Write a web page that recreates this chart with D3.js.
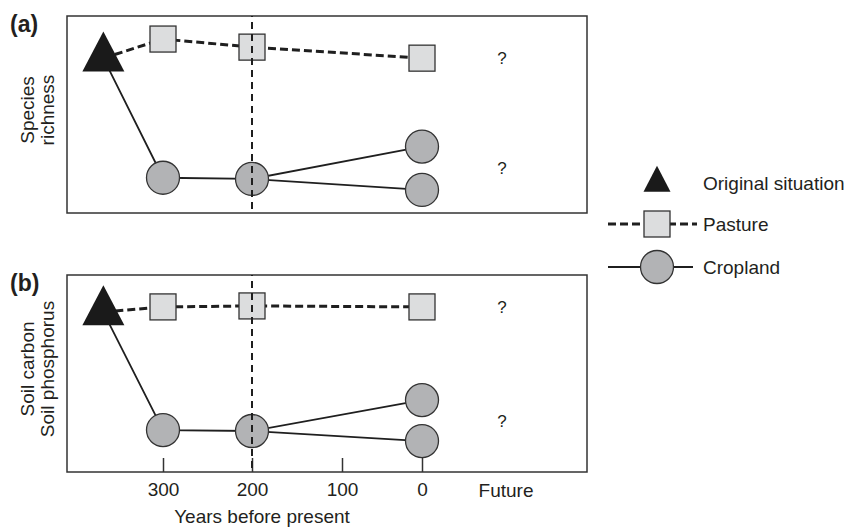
<!DOCTYPE html>
<html>
<head>
<meta charset="utf-8">
<script src="https://cdn.jsdelivr.net/npm/d3@7"></script>
<style>
body { margin: 0; background: #fff; }
svg { display: block; font-family: "Liberation Sans", Arial, sans-serif; }
</style>
</head>
<body>
<svg id="containerSVG" width="848" height="528"></svg>
<script>

//DATI

var tickYears = [300, 200, 100, 0];
var futureLabel = "Future";
var originalYear = 367;
var futureYear = -100;
var dividerYear = 200;

var panelLabels = ["(a)", "(b)"];
var yLabels = [["Species", "richness"], ["Soil carbon", "Soil phosphorus"]];

// valori schematici, 0-100 dell'altezza del pannello
var originalValues = [78.6, 81.2];

var pastureYears = [300, 200, 0];
var pastureValues = [[88.3, 84.2, 78.6], [83.8, 84.3, 83.8]];

var croplandYears = [300, 200];
var croplandValues = [[17.9, 17.3], [21.3, 20.8]];
var croplandEndYear = 0;
var croplandEnds = [[33.7, 11.7], [36.5, 15.7]];

var legendLabels = ["Original situation", "Pasture", "Cropland"];

//VARIABILI

var svg = d3.select("#containerSVG");

var boxLeft = 67;
var boxRight = 587;
var panelTops = [16, 275];
var panelHeight = 197;

var coloreTesto = "#231f20";
var coloreLinea = "#1f1f1f";
var fillQuadrato = "#dcddde";
var fillCerchio = "#b2b3b5";

var fontTesto = 19;
var lato = 26;
var raggio = 16.5;

var x = d3.scaleLinear()
    .domain(tickYears)
    .range([163, 252, 342, 422]);

var linea = d3.line()
    .x(d => x(d[0]))
    .y(d => d[1]);

//FUNZIONI

function triangolo(w, h){

    var p = d3.path();
    p.moveTo(0, -h * 2 / 3);
    p.lineTo(w / 2, h / 3);
    p.lineTo(-w / 2, h / 3);
    p.closePath();
    return p.toString();

}

function disegnaPannello(i){

    var top = panelTops[i];
    var y = d3.scaleLinear().domain([0, 100]).range([top + panelHeight, top]);
    var g = svg.append("g");

    g.append("rect")
        .attr("x", boxLeft)
        .attr("y", top)
        .attr("width", boxRight - boxLeft)
        .attr("height", panelHeight)
        .attr("fill", "none")
        .attr("stroke", "#333")
        .attr("stroke-width", 1.5);

    // etichetta pannello
    g.append("text")
        .attr("x", 10)
        .attr("y", top + 16)
        .attr("font-size", 23)
        .attr("font-weight", "bold")
        .attr("fill", coloreTesto)
        .text(panelLabels[i]);

    // titolo asse y su due righe
    g.selectAll(".ylab")
        .data(yLabels[i])
        .enter()
        .append("text")
        .attr("class", "ylab")
        .attr("transform", (d, k) => "translate(" + (34 + k * 20) + "," + (top + 94) + ") rotate(-90)")
        .attr("text-anchor", "middle")
        .attr("font-size", fontTesto)
        .attr("fill", coloreTesto)
        .text(d => d);

    if(i == 1){

        var asse = d3.axisBottom(x)
            .tickValues(tickYears)
            .tickSize(-14)
            .tickPadding(11)
            .tickFormat(d3.format("d"));

        var ga = g.append("g")
            .attr("transform", "translate(0," + (top + panelHeight) + ")")
            .call(asse);

        ga.select(".domain").remove();
        ga.selectAll(".tick line").attr("stroke", "#333").attr("stroke-width", 1.5);
        ga.selectAll(".tick text")
            .attr("font-size", fontTesto)
            .attr("font-family", "Liberation Sans, Arial, sans-serif")
            .attr("fill", coloreTesto);

        g.append("text")
            .attr("x", x(futureYear) + 4)
            .attr("y", top + panelHeight + 25)
            .attr("text-anchor", "middle")
            .attr("font-size", fontTesto)
            .attr("fill", coloreTesto)
            .text(futureLabel);

        g.append("text")
            .attr("x", 262)
            .attr("y", top + panelHeight + 51)
            .attr("text-anchor", "middle")
            .attr("font-size", fontTesto)
            .attr("fill", coloreTesto)
            .text("Years before present");

    }

    // linea pascolo (tratteggiata)
    var pascolo = [[originalYear, y(originalValues[i])]];
    pastureYears.forEach((a, k) => pascolo.push([a, y(pastureValues[i][k])]));

    g.append("path")
        .attr("d", linea(pascolo))
        .attr("fill", "none")
        .attr("stroke", coloreLinea)
        .attr("stroke-width", 3)
        .attr("stroke-dasharray", "8,4");

    // linee coltivo (continue, con biforcazione)
    var coltivo = [[originalYear, y(originalValues[i])]];
    croplandYears.forEach((a, k) => coltivo.push([a, y(croplandValues[i][k])]));
    var ultimo = coltivo[coltivo.length - 1];

    g.append("path")
        .attr("d", linea(coltivo))
        .attr("fill", "none")
        .attr("stroke", coloreLinea)
        .attr("stroke-width", 1.8);

    g.selectAll(".ramo")
        .data(croplandEnds[i])
        .enter()
        .append("path")
        .attr("class", "ramo")
        .attr("d", d => linea([ultimo, [croplandEndYear, y(d)]]))
        .attr("fill", "none")
        .attr("stroke", coloreLinea)
        .attr("stroke-width", 1.8);

    // marcatori
    g.append("path")
        .attr("d", triangolo(42, 40))
        .attr("transform", "translate(" + x(originalYear) + "," + y(originalValues[i]) + ")")
        .attr("fill", "#1a1a1a");

    g.selectAll(".quadrato")
        .data(pastureValues[i])
        .enter()
        .append("rect")
        .attr("class", "quadrato")
        .attr("x", (d, k) => x(pastureYears[k]) - lato / 2)
        .attr("y", d => y(d) - lato / 2)
        .attr("width", lato)
        .attr("height", lato)
        .attr("fill", fillQuadrato)
        .attr("stroke", "#333")
        .attr("stroke-width", 1.3);

    var cerchi = croplandValues[i].map((v, k) => [croplandYears[k], v])
        .concat(croplandEnds[i].map(v => [croplandEndYear, v]));

    g.selectAll(".cerchio")
        .data(cerchi)
        .enter()
        .append("circle")
        .attr("class", "cerchio")
        .attr("cx", d => x(d[0]))
        .attr("cy", d => y(d[1]))
        .attr("r", raggio)
        .attr("fill", fillCerchio)
        .attr("stroke", "#333")
        .attr("stroke-width", 1.3);

    // punti interrogativi per il futuro
    var domande = [pastureValues[i][pastureValues[i].length - 1], d3.mean(croplandEnds[i])];

    g.selectAll(".domanda")
        .data(domande)
        .enter()
        .append("text")
        .attr("class", "domanda")
        .attr("x", x(futureYear))
        .attr("y", d => y(d) + 6)
        .attr("text-anchor", "middle")
        .attr("font-size", 17)
        .attr("fill", coloreTesto)
        .text("?");

    // linea verticale tratteggiata sopra i marcatori
    g.append("line")
        .attr("x1", x(dividerYear))
        .attr("x2", x(dividerYear))
        .attr("y1", top)
        .attr("y2", top + panelHeight)
        .attr("stroke", coloreLinea)
        .attr("stroke-width", 2)
        .attr("stroke-dasharray", "7,5")
        .attr("stroke-dashoffset", -6);

}

function disegnaLegenda(){

    var g = svg.append("g").attr("transform", "translate(657,0)");
    var righe = [183, 224, 267];

    g.append("path")
        .attr("d", triangolo(27, 26))
        .attr("transform", "translate(0," + righe[0] + ")")
        .attr("fill", "#1a1a1a");

    g.append("line")
        .attr("x1", -49).attr("x2", 40)
        .attr("y1", righe[1]).attr("y2", righe[1])
        .attr("stroke", coloreLinea)
        .attr("stroke-width", 3)
        .attr("stroke-dasharray", "8,4");

    g.append("rect")
        .attr("x", -lato / 2)
        .attr("y", righe[1] - lato / 2)
        .attr("width", lato)
        .attr("height", lato)
        .attr("fill", fillQuadrato)
        .attr("stroke", "#333")
        .attr("stroke-width", 1.3);

    g.append("line")
        .attr("x1", -49).attr("x2", 36)
        .attr("y1", righe[2]).attr("y2", righe[2])
        .attr("stroke", coloreLinea)
        .attr("stroke-width", 1.8);

    g.append("circle")
        .attr("cx", 0)
        .attr("cy", righe[2])
        .attr("r", raggio)
        .attr("fill", fillCerchio)
        .attr("stroke", "#333")
        .attr("stroke-width", 1.3);

    g.selectAll(".leg")
        .data(legendLabels)
        .enter()
        .append("text")
        .attr("class", "leg")
        .attr("x", 46)
        .attr("y", (d, k) => righe[k] + 7)
        .attr("font-size", fontTesto)
        .attr("fill", coloreTesto)
        .text(d => d);

}

disegnaPannello(0);
disegnaPannello(1);
disegnaLegenda();

</script>
</body>
</html>
